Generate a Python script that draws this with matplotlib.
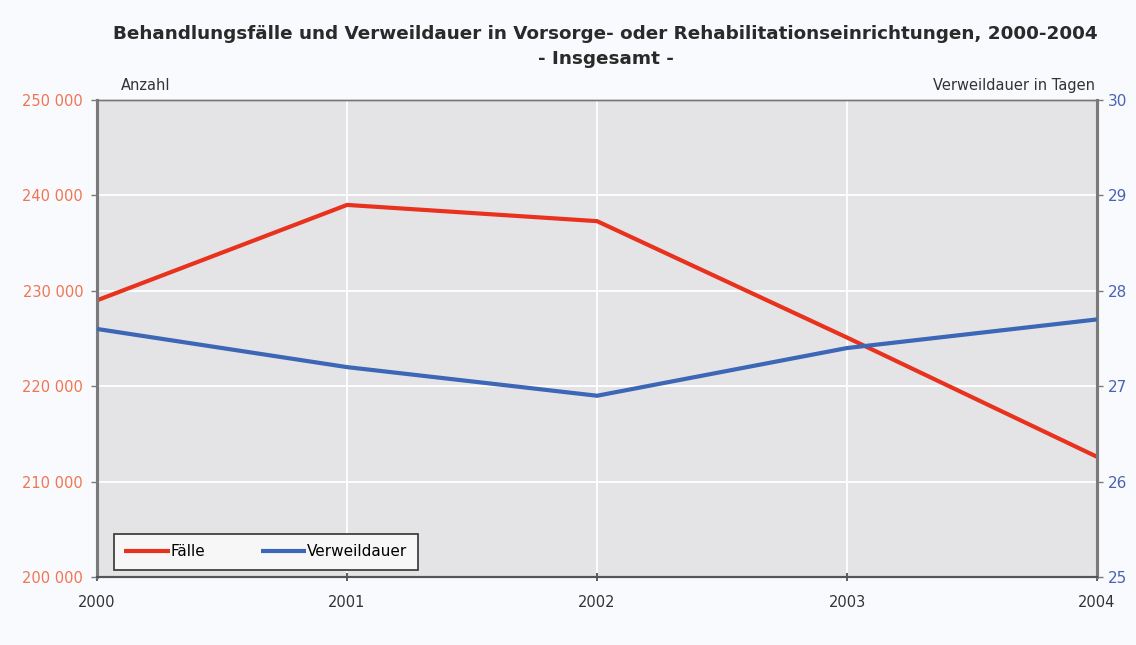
import matplotlib
matplotlib.use("Agg")
import matplotlib.pyplot as plt
from matplotlib.ticker import FuncFormatter

years = [2000, 2001, 2002, 2003, 2004]
faelle = [229000, 239000, 237300, 225100, 212600]
verweildauer = [27.6, 27.2, 26.9, 27.4, 27.7]

left_ticks = [200000, 210000, 220000, 230000, 240000, 250000]
right_ticks = [25, 26, 27, 28, 29, 30]

title_text = ("Behandlungsfälle und Verweildauer in Vorsorge- oder Rehabilitationseinrichtungen, 2000-2004\n"
              "- Insgesamt -")

RED = "#e8321e"
BLUE = "#3c66b6"
RED_TXT = "#f07552"
BLUE_TXT = "#4a62b4"
BG = "#f9fafd"
PLOT_BG = "#e4e4e6"
SPINE = "#7a7a7a"

plt.rcParams["font.family"] = ["DejaVu Sans"]

fig = plt.figure(figsize=(11.36, 6.45), dpi=100, facecolor=BG)
ax = fig.add_axes([0.0854, 0.1054, 0.8803, 0.7396])
ax.set_facecolor(PLOT_BG)
ax2 = ax.twinx()

l1, = ax.plot(years, faelle, color=RED, lw=3.0, solid_capstyle="butt", zorder=3)
l2, = ax2.plot(years, verweildauer, color=BLUE, lw=3.0, solid_capstyle="butt", zorder=3)

ax.set_xlim(2000, 2004)
ax.set_ylim(200000, 250000)
ax2.set_ylim(25, 30)
ax.set_xticks(years)
ax.set_yticks(left_ticks)
ax2.set_yticks(right_ticks)
ax.yaxis.set_major_formatter(FuncFormatter(lambda v, p: f"{int(v):,}".replace(",", " ")))

ax.grid(True, color="white", lw=1.3, zorder=0)
ax.set_axisbelow(True)

ax.tick_params(axis="y", colors=SPINE, labelcolor=RED_TXT, labelsize=10.5, length=4, width=1, pad=6)
ax2.tick_params(axis="y", colors=SPINE, labelcolor=BLUE_TXT, labelsize=11, length=4, width=1, pad=4)
ax.tick_params(axis="x", colors="#444444", labelcolor="#333333", labelsize=10.5, length=6, width=1.2,
               direction="inout", pad=10)

for a in (ax, ax2):
    for side in ("left", "right"):
        a.spines[side].set_color(SPINE)
        a.spines[side].set_linewidth(2.2)
    a.spines["bottom"].set_color("#555555")
    a.spines["bottom"].set_linewidth(1.5)
    a.spines["top"].set_color("#777777")
    a.spines["top"].set_linewidth(1.0)

fig.text(0.533, 0.962, title_text, ha="center", va="top", fontsize=13.2, fontweight="bold",
         color="#2a2a2a", linespacing=1.55)
fig.text(0.106, 0.868, "Anzahl", ha="left", va="center", fontsize=10.5, color="#333333")
fig.text(0.964, 0.868, "Verweildauer in Tagen", ha="right", va="center", fontsize=10.5, color="#333333")

leg = ax.legend([l1, l2], ["Fälle", "Verweildauer"], loc="lower left", ncol=2,
                bbox_to_anchor=(0.012, 0.005), frameon=True, fancybox=False, fontsize=11,
                handlelength=3.0, handletextpad=0.05, columnspacing=3.6, borderpad=0.7,
                borderaxespad=0.3)
leg.get_frame().set_edgecolor("#333333")
leg.get_frame().set_linewidth(1.2)
leg.get_frame().set_facecolor("#f7f7f8")
leg.get_frame().set_alpha(1.0)
leg.set_zorder(5)

fig.savefig("out.png", dpi=100, facecolor=BG)
